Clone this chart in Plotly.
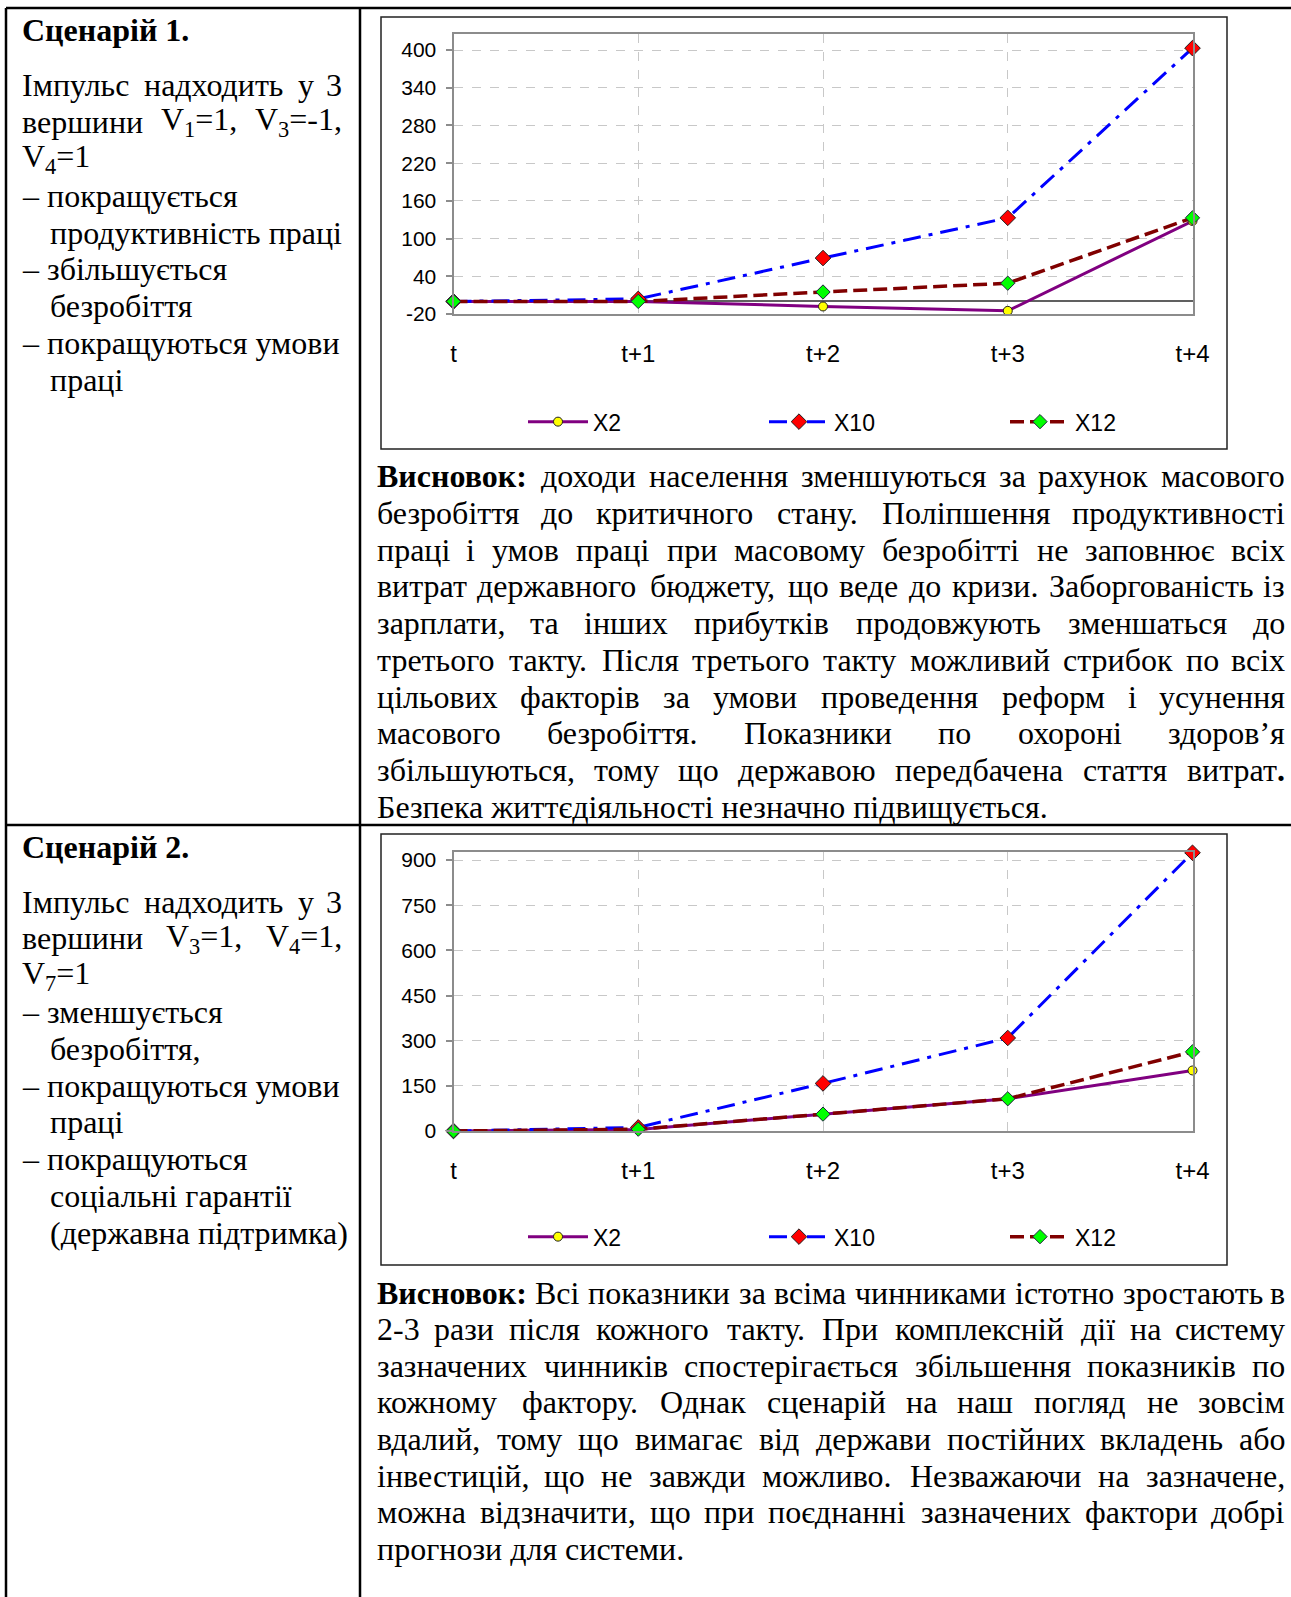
import re
import plotly.graph_objects as go

W, H = 1291, 1597

# ---------------- data ----------------
categories = ["t", "t+1", "t+2", "t+3", "t+4"]
series_names = ["X2", "X10", "X12"]

s1_x2 = [0, 0, -8, -15, 128]
s1_x10 = [0, 4, 69, 133, 403]
s1_x12 = [0, 0, 15, 29, 133]

s2_x2 = [0, 5, 56, 107, 201]
s2_x10 = [0, 12, 158, 309, 924]
s2_x12 = [0, 6, 56, 107, 263]

y1_ticks = [-20, 40, 100, 160, 220, 280, 340, 400]
y2_ticks = [0, 150, 300, 450, 600, 750, 900]

left1 = [
    ("<b>Сценарій 1.</b>", "L", False),
    ("Імпульс надходить у 3", "L", True),
    ("вершини V<sub>1</sub>=1, V<sub>3</sub>=-1,", "L", True),
    ("V<sub>4</sub>=1", "L", False),
    ("– покращується", "L", False),
    ("продуктивність праці", "I", False),
    ("– збільшується", "L", False),
    ("безробіття", "I", False),
    ("– покращуються умови", "L", False),
    ("праці", "I", False),
]
left2 = [
    ("<b>Сценарій 2.</b>", "L", False),
    ("Імпульс надходить у 3", "L", True),
    ("вершини V<sub>3</sub>=1, V<sub>4</sub>=1,", "L", True),
    ("V<sub>7</sub>=1", "L", False),
    ("– зменшується", "L", False),
    ("безробіття,", "I", False),
    ("– покращуються умови", "L", False),
    ("праці", "I", False),
    ("– покращуються", "L", False),
    ("соціальні гарантії", "I", False),
    ("(державна підтримка)", "I", False),
]
concl1 = [
    ("<b>Висновок:</b> доходи населення зменшуються за рахунок масового", True),
    ("безробіття до критичного стану. Поліпшення продуктивності", True),
    ("праці і умов праці при масовому безробітті не заповнює всіх", True),
    ("витрат державного бюджету, що веде до кризи. Заборгованість із", True),
    ("зарплати, та інших прибутків продовжують зменшаться до", True),
    ("третього такту. Після третього такту можливий стрибок по всіх", True),
    ("цільових факторів за умови проведення реформ і усунення", True),
    ("масового безробіття. Показники по охороні здоров’я", True),
    ("збільшуються, тому що державою передбачена стаття витрат<b>.</b>", True),
    ("Безпека життєдіяльності незначно підвищується.", False),
]
concl2 = [
    ("<b>Висновок:</b> Всі показники за всіма чинниками істотно зростають в", True),
    ("2-3 рази після кожного такту. При комплексній дії на систему", True),
    ("зазначених чинників спостерігається збільшення показників по", True),
    ("кожному фактору. Однак сценарій на наш погляд не зовсім", True),
    ("вдалий, тому що вимагає від держави постійних вкладень або", True),
    ("інвестицій, що не завжди можливо. Незважаючи на зазначене,", True),
    ("можна відзначити, що при поєднанні зазначених фактори добрі", True),
    ("прогнози для системи.", False),
]

# ---------------- helpers ----------------
def px(x):
    return x / W

def py(y):
    return 1 - y / H

# approximate Times (Liberation Serif) advance widths, per 1000 em
CW = {
    ' ': 250, ',': 250, '.': 250, ':': 278, '-': 333, '–': 500, '’': 333,
    '(': 333, ')': 333, '=': 564, 'V': 722,
    'а': 444, 'б': 509, 'в': 472, 'г': 410, 'д': 509, 'е': 444, 'ж': 691,
    'з': 395, 'и': 535, 'й': 535, 'к': 486, 'л': 499, 'м': 633, 'н': 535,
    'о': 500, 'п': 535, 'р': 500, 'с': 444, 'т': 437, 'у': 500, 'ф': 648,
    'х': 500, 'ц': 535, 'ч': 503, 'ш': 770, 'щ': 770, 'ъ': 517, 'ы': 672,
    'ь': 456, 'э': 429, 'ю': 747, 'я': 460, 'і': 278, 'ї': 278, 'є': 444,
    'А': 722, 'Б': 574, 'В': 667, 'Г': 578, 'Д': 682, 'Е': 611, 'Ж': 896,
    'З': 501, 'И': 722, 'К': 678, 'Л': 668, 'М': 889, 'Н': 722, 'О': 722,
    'П': 722, 'Р': 556, 'С': 667, 'Т': 611, 'У': 708, 'Ф': 790, 'Х': 722,
    'Ц': 722, 'Ч': 650, 'Ш': 1009, 'Щ': 1009, 'Ю': 1028, 'Я': 667, 'І': 333,
}
for d in "0123456789":
    CW[d] = 500


def text_width(s, size):
    total = 0.0
    bold = False
    sub = False
    for tok in re.split(r"(<[^>]+>)", s):
        if tok == "<b>":
            bold = True
        elif tok == "</b>":
            bold = False
        elif tok == "<sub>":
            sub = True
        elif tok == "</sub>":
            sub = False
        elif tok:
            for ch in tok:
                w = CW.get(ch, 500) / 1000.0
                if bold:
                    w *= 1.07
                if sub:
                    w *= 0.7
                total += w * size
    return total


SERIF = "Liberation Serif, Times New Roman, serif"
SANS = "Liberation Sans, Arial, sans-serif"
annotations = []


def ann(text, x, y, anchor, size):
    annotations.append(dict(
        text=text, x=px(x), y=py(y), xref="paper", yref="paper",
        xanchor=anchor, yanchor="middle", showarrow=False, borderpad=0,
        font=dict(family=SERIF, size=size, color="black"),
    ))


def add_line(text, y, x0, x1, justify, size=32):
    words = text.split(" ")
    if not justify or len(words) == 1:
        ann(text, x0, y, "left", size)
        return
    widths = [text_width(w, size) for w in words]
    gap = (x1 - x0 - sum(widths)) / (len(words) - 1)
    x = x0
    for i, w in enumerate(words):
        if i == 0:
            ann(w, x0, y, "left", size)
        elif i == len(words) - 1:
            ann(w, x1, y, "right", size)
        else:
            ann(w, x + widths[i] / 2, y, "center", size)
        x += widths[i] + gap


# left column
LX, IX, LR = 21, 48.5, 343
for i, (t, ind, j) in enumerate(left1):
    y = 30 if i == 0 else 85 + (i - 1) * 36.9
    add_line(t, y, LX if ind == "L" else IX, LR, j)
for i, (t, ind, j) in enumerate(left2):
    y = 846.5 if i == 0 else 901.5 + (i - 1) * 36.8
    add_line(t, y, LX if ind == "L" else IX, LR, j)

# right column conclusions
RX0, RX1 = 376, 1286
for i, (t, j) in enumerate(concl1):
    add_line(t, 476.2 + i * 36.75, RX0, RX1, j)
for i, (t, j) in enumerate(concl2):
    add_line(t, 1292.5 + i * 36.64, RX0, RX1, j)

# ---------------- chart traces ----------------
styles = {
    "X2": dict(line=dict(color="#800080", width=3, dash="solid"),
               marker=dict(symbol="circle", size=9, color="#ffff00",
                           line=dict(color="#202020", width=1))),
    "X10": dict(line=dict(color="#0000ff", width=3, dash="18px,8px,4px,8px"),
                marker=dict(symbol="diamond", size=12, color="#ff0000",
                            line=dict(color="#202020", width=1))),
    "X12": dict(line=dict(color="#800000", width=3.5, dash="14px,6px"),
                marker=dict(symbol="diamond", size=11, color="#00ff00",
                            line=dict(color="#202040", width=1))),
}

fig = go.Figure()
for name, vals in zip(series_names, [s1_x2, s1_x10, s1_x12]):
    fig.add_trace(go.Scatter(x=categories, y=vals, name=name, mode="lines+markers",
                             xaxis="x", yaxis="y", legend="legend", cliponaxis=False,
                             **styles[name]))
for name, vals in zip(series_names, [s2_x2, s2_x10, s2_x12]):
    fig.add_trace(go.Scatter(x=categories, y=vals, name=name, mode="lines+markers",
                             xaxis="x2", yaxis="y2", legend="legend2", cliponaxis=False,
                             **styles[name]))

PL, PR = 453.5, 1192.5


def xaxis_cfg(anchor):
    return dict(
        domain=[px(PL), px(PR)], anchor=anchor, type="category",
        categoryorder="array", categoryarray=categories, range=[0, 4],
        showgrid=True, gridcolor="#c8c8c8", griddash="dash", gridwidth=1,
        showline=True, linecolor="#8c8c8c", linewidth=2, mirror=True,
        ticks="", ticklabelstandoff=17,
        tickfont=dict(family=SANS, size=24, color="black"),
        zeroline=False, fixedrange=True, automargin=False,
    )


def yaxis_cfg(anchor, top, bottom, rng, tickvals):
    return dict(
        domain=[py(bottom), py(top)], anchor=anchor, range=rng,
        tickmode="array", tickvals=tickvals, ticktext=[str(v) for v in tickvals],
        showgrid=True, gridcolor="#c8c8c8", griddash="dash", gridwidth=1,
        showline=True, linecolor="#8c8c8c", linewidth=2, mirror=True,
        ticks="outside", ticklen=6, tickcolor="#8c8c8c", tickwidth=1.5,
        ticklabelstandoff=5,
        tickfont=dict(family=SANS, size=21, color="black"),
        zeroline=True, zerolinecolor="#606060", zerolinewidth=1.5,
        fixedrange=True, automargin=False,
    )


legend_common = dict(
    orientation="h", xanchor="left", yanchor="middle",
    entrywidth=166, entrywidthmode="pixels", itemwidth=60,
    font=dict(family=SANS, size=23, color="black"),
    bgcolor="rgba(0,0,0,0)", borderwidth=0, traceorder="normal",
    itemclick=False, itemdoubleclick=False,
)

shapes = []


def line(x0, y0, x1, y1, w=2.5, c="black"):
    shapes.append(dict(type="line", xref="paper", yref="paper",
                       x0=px(x0), y0=py(y0), x1=px(x1), y1=py(y1),
                       line=dict(color=c, width=w)))


def rect(x0, y0, x1, y1, w=1.5, c="#222222"):
    shapes.append(dict(type="rect", xref="paper", yref="paper",
                       x0=px(x0), y0=py(y0), x1=px(x1), y1=py(y1),
                       line=dict(color=c, width=w), layer="below"))


# table grid
line(6, 8, W, 8)
line(6, 8, 6, H)
line(360, 8, 360, H)
line(6, 825, W, 825)
# chart frames
rect(381, 17, 1227, 449)
rect(381, 834, 1227, 1265)

fig.update_layout(
    width=W, height=H,
    margin=dict(l=0, r=0, t=0, b=0, pad=0, autoexpand=False),
    paper_bgcolor="white", plot_bgcolor="white",
    xaxis=xaxis_cfg("y"),
    yaxis=yaxis_cfg("x", 34, 314, [-20, 425.5], y1_ticks),
    xaxis2=xaxis_cfg("y2"),
    yaxis2=yaxis_cfg("x2", 852, 1131, [0, 926.6], y2_ticks),
    legend=dict(x=px(523), y=py(421.7), **legend_common),
    legend2=dict(x=px(523), y=py(1236.7), **legend_common),
    showlegend=True,
    annotations=annotations,
    shapes=shapes,
)

fig.write_html("out.html", post_script="document.body.style.margin='0';",
               config={"displayModeBar": False})
